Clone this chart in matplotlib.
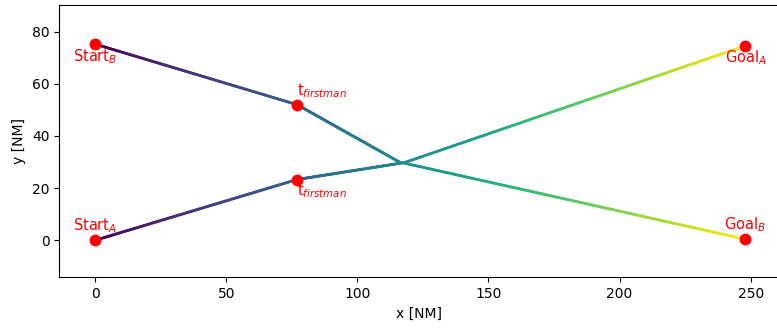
import numpy as np
import matplotlib
matplotlib.use("Agg")
import matplotlib.pyplot as plt
from matplotlib.collections import LineCollection

# Waypoints of the two trajectories [NM]
xA = [0, 77, 118, 248]
yA = [0, 23.3, 29.8, 74.6]
xB = [0, 77, 116, 248]
yB = [75.2, 52.0, 30.0, 0.4]

# Labelled points
labelsA = ["Start$_A$", "t$_{firstman}$", "Goal$_A$"]
labelsB = ["Start$_B$", "t$_{firstman}$", "Goal$_B$"]
idxLabel = [0, 1, 3]

fig = plt.figure(figsize=(7.77, 3.28), dpi=100)
ax = fig.add_axes([59.3/777., 50.7/328., 718.6/777., 272./328.])

def gradient_line(ax, xs, ys):
    # split the polyline into short pieces so colour follows progress (viridis)
    xs = np.asarray(xs, float)
    ys = np.asarray(ys, float)
    px, py = [], []
    for i in range(len(xs)-1):
        t = np.linspace(0, 1, 150, endpoint=(i == len(xs)-2))
        px.extend(xs[i] + t*(xs[i+1]-xs[i]))
        py.extend(ys[i] + t*(ys[i+1]-ys[i]))
    pts = np.column_stack([px, py])
    d = np.r_[0, np.cumsum(np.hypot(np.diff(pts[:, 0]), np.diff(pts[:, 1])))]
    d = d / d[-1]
    segs = np.stack([pts[:-1], pts[1:]], axis=1)
    lc = LineCollection(segs, cmap="viridis", linewidth=2, capstyle='round')
    lc.set_array(0.5*(d[:-1]+d[1:]))
    lc.set_clim(0, 1)
    ax.add_collection(lc)

gradient_line(ax, xA, yA)
gradient_line(ax, xB, yB)

# Markers
ax.plot([xA[i] for i in idxLabel], [yA[i] for i in idxLabel], 'o', color='red', markersize=7.5, zorder=5)
ax.plot([xB[i] for i in idxLabel], [yB[i] for i in idxLabel], 'o', color='red', markersize=7.5, zorder=5)

# Labels
fs = 10.5
ax.annotate(labelsA[0], (xA[0], yA[0]), xytext=(0, 4), textcoords='offset points', ha='center', va='bottom', color='red', fontsize=fs)
ax.annotate(labelsA[1], (xA[1], yA[1]), xytext=(0, -1), textcoords='offset points', ha='left', va='top', color='red', fontsize=fs)
ax.annotate(labelsA[2], (xA[3], yA[3]), xytext=(0, -2), textcoords='offset points', ha='center', va='top', color='red', fontsize=fs)
ax.annotate(labelsB[0], (xB[0], yB[0]), xytext=(0, -2), textcoords='offset points', ha='center', va='top', color='red', fontsize=fs)
ax.annotate(labelsB[1], (xB[1], yB[1]), xytext=(0, 3), textcoords='offset points', ha='left', va='bottom', color='red', fontsize=fs)
ax.annotate(labelsB[2], (xB[3], yB[3]), xytext=(0, 4), textcoords='offset points', ha='center', va='bottom', color='red', fontsize=fs)

ax.set_xlim(-13.7, 260.4)
ax.set_ylim(-14.2, 90.1)
ax.set_xticks([0, 50, 100, 150, 200, 250])
ax.set_yticks([0, 20, 40, 60, 80])
ax.set_xlabel("x [NM]")
ax.set_ylabel("y [NM]")

fig.savefig("out.png", dpi=100)
